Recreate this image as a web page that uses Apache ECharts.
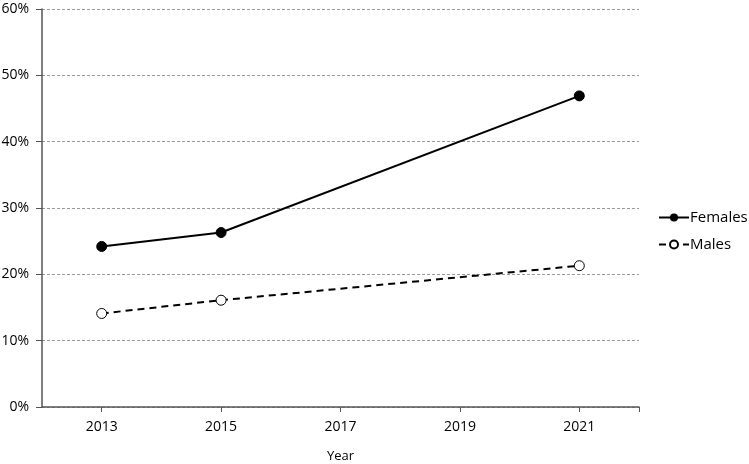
<!DOCTYPE html>
<html><head><meta charset="utf-8">
<script src="https://cdn.jsdelivr.net/npm/echarts@6/dist/echarts.min.js"></script>
<style>html,body{margin:0;padding:0;background:#fff}#c{width:749px;height:464px}</style>
</head><body><div id="c"></div>
<script>
const years = [2013, 2015, 2021];
const females = [24.2, 26.3, 46.9];
const males = [14.1, 16.1, 21.3];
const xLabels = [2013, 2015, 2017, 2019, 2021];
const xTicks = [2013, 2015, 2017, 2019, 2021, 2022];
const font = '"Open Sans", "Noto Sans", sans-serif';
const chart = echarts.init(document.getElementById('c'));
chart.setOption({
  animation: false,
  grid: {left: 42, right: 110, top: 9, bottom: 57, containLabel: false, outerBoundsMode: 'none'},
  legend: {
    orient: 'vertical', left: 653, top: 205, itemGap: 12, itemWidth: 30, itemHeight: 10,
    textStyle: {color: '#000', fontSize: 15, fontFamily: font, padding: [0,0,0,-4]},
    data: ['Females', 'Males']
  },
  xAxis: {
    type: 'value', min: 2012, max: 2022,
    name: 'Year', nameLocation: 'middle', nameGap: 43,
    nameTextStyle: {color: '#000', fontSize: 13, fontFamily: font},
    axisLine: {lineStyle: {color: '#555', width: 1.5}},
    axisTick: {show: true, customValues: xTicks, length: 5, lineStyle: {color: '#555'}},
    axisLabel: {customValues: xLabels, color: '#000', fontSize: 14, fontFamily: font, margin: 13, formatter: v => String(v)},
    splitLine: {show: false}
  },
  yAxis: {
    type: 'value', min: 0, max: 60, interval: 10,
    axisLine: {show: true, lineStyle: {color: '#555', width: 1.5}},
    axisTick: {show: true, length: 6, lineStyle: {color: '#555'}},
    axisLabel: {color: '#000', fontSize: 14, fontFamily: font, margin: 13, formatter: v => v + '%'},
    splitLine: {show: true, lineStyle: {color: '#999', type: [3, 2], width: 1}}
  },
  series: [
    {
      name: 'Females', type: 'line', data: years.map((y, i) => [y, females[i]]),
      symbol: 'circle', symbolSize: 10,
      itemStyle: {color: '#000', borderColor: '#000'},
      lineStyle: {color: '#000', width: 2, type: 'solid'}
    },
    {
      name: 'Males', type: 'line', data: years.map((y, i) => [y, males[i]]),
      symbol: 'circle', symbolSize: 10,
      itemStyle: {color: '#fff', borderColor: '#000', borderWidth: 1},
      lineStyle: {color: '#000', width: 2, type: [7, 5]}
    }
  ]
});
</script></body></html>
